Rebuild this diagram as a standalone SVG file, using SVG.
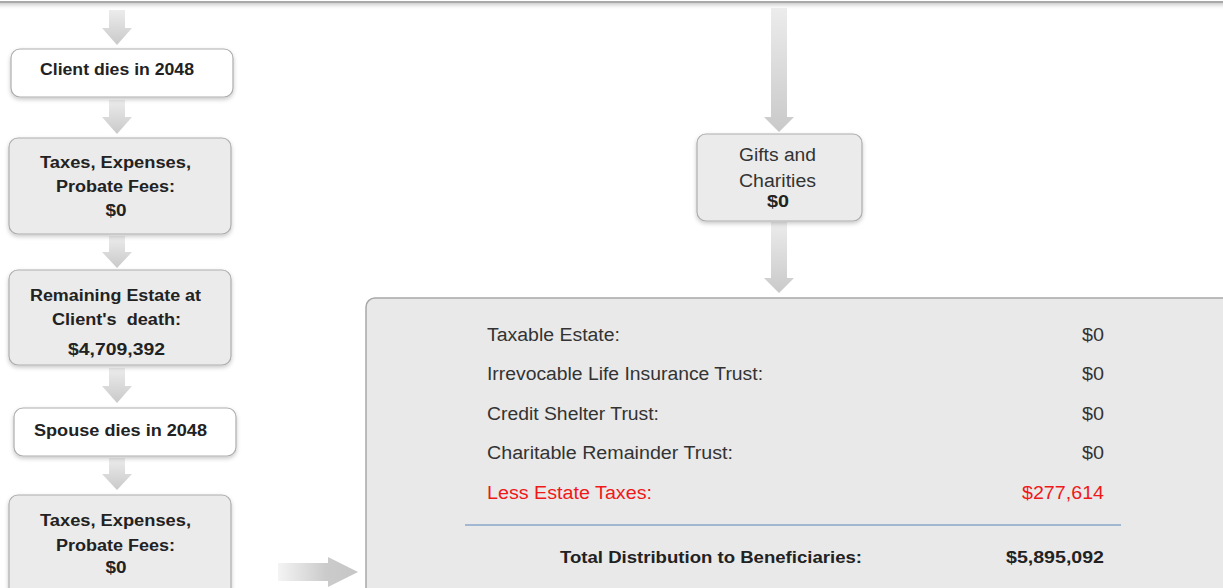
<svg xmlns="http://www.w3.org/2000/svg" width="1223" height="588" viewBox="0 0 1223 588">
<defs>
<filter id="sh" x="-10%" y="-10%" width="120%" height="140%"><feDropShadow dx="0" dy="2" stdDeviation="2" flood-color="#000" flood-opacity="0.22"/></filter>
<linearGradient id="gv" x1="0" y1="0" x2="0" y2="1"><stop offset="0" stop-color="#ececec"/><stop offset="1" stop-color="#c9c9c9"/></linearGradient>
<linearGradient id="gh" x1="0" y1="0" x2="1" y2="0"><stop offset="0" stop-color="#f4f4f4"/><stop offset="0.6" stop-color="#cbcbcb"/><stop offset="1" stop-color="#c6c6c6"/></linearGradient>
<style>
.box{stroke:#adadad;stroke-width:1.2}
.w{fill:#fff}
.g{fill:#ebebeb}
.b{font-family:"Liberation Sans",Arial,sans-serif;font-weight:bold;font-size:16px;fill:#222;text-anchor:middle}
.n{font-family:"Liberation Sans",Arial,sans-serif;font-size:18px;fill:#333}
.r{text-anchor:end}
.red{fill:#f01818}
.tb{font-family:"Liberation Sans",Arial,sans-serif;font-weight:bold;font-size:17px;fill:#222}
</style>
</defs>
<g id="frame-top"><rect x="-20" y="-100" width="1263" height="102" fill="#fff" stroke="#a8a8a8" stroke-width="2" filter="url(#sh)"/></g>
<g id="connectors">
<path d="M109 10 H125 V28 H132 L117 45 L102 28 H109 Z" fill="url(#gv)"/>
<path d="M109 100 H125 V117 H132 L117 134 L102 117 H109 Z" fill="url(#gv)"/>
<path d="M109 236 H125 V252 H132 L117 268 L102 252 H109 Z" fill="url(#gv)"/>
<path d="M109 368 H125 V386 H132 L117 403 L102 386 H109 Z" fill="url(#gv)"/>
<path d="M109 458 H125 V474 H132 L117 490 L102 474 H109 Z" fill="url(#gv)"/>
<path d="M771 8 H787 V117 H794 L779 132 L764 117 H771 Z" fill="url(#gv)"/>
<path d="M771 222 H787 V278 H794 L779 293 L764 278 H771 Z" fill="url(#gv)"/>
<path d="M278 563 H328 V557 L358 572 L328 587 V581 H278 Z" fill="url(#gh)"/>
</g>
<g id="n-client"><rect class="box w" x="11" y="49" width="222" height="48" rx="9" filter="url(#sh)"/><text class="b" x="117" y="75" textLength="154" lengthAdjust="spacingAndGlyphs">Client dies in 2048</text></g>
<g id="n-tax1"><rect class="box g" x="9" y="138" width="222" height="96" rx="9" filter="url(#sh)"/><text class="b" x="115.5" y="168" textLength="151" lengthAdjust="spacingAndGlyphs">Taxes, Expenses,</text><text class="b" x="115.5" y="192" textLength="119" lengthAdjust="spacingAndGlyphs">Probate Fees:</text><text class="b" x="116" y="216" textLength="21" lengthAdjust="spacingAndGlyphs">$0</text></g>
<g id="n-remain"><rect class="box g" x="9" y="270" width="222" height="95" rx="9" filter="url(#sh)"/><text class="b" x="115.5" y="301" textLength="171" lengthAdjust="spacingAndGlyphs">Remaining Estate at</text><text class="b" x="116.5" y="325" textLength="129" lengthAdjust="spacingAndGlyphs">Client's&#160; death:</text><text class="b" x="116.5" y="355" style="font-size:17px" textLength="97" lengthAdjust="spacingAndGlyphs">$4,709,392</text></g>
<g id="n-spouse"><rect class="box w" x="14" y="408" width="222" height="48" rx="9" filter="url(#sh)"/><text class="b" x="120.5" y="436" textLength="173" lengthAdjust="spacingAndGlyphs">Spouse dies in 2048</text></g>
<g id="n-tax2"><rect class="box g" x="9" y="495" width="222" height="110" rx="9" filter="url(#sh)"/><text class="b" x="115.5" y="526" textLength="151" lengthAdjust="spacingAndGlyphs">Taxes, Expenses,</text><text class="b" x="115.5" y="551" textLength="119" lengthAdjust="spacingAndGlyphs">Probate Fees:</text><text class="b" x="116" y="573" textLength="21" lengthAdjust="spacingAndGlyphs">$0</text></g>
<g id="n-gifts"><rect class="box g" x="697" y="134" width="165" height="87" rx="9" filter="url(#sh)"/><text class="n" x="777.5" y="161" text-anchor="middle" textLength="77" lengthAdjust="spacingAndGlyphs">Gifts and</text><text class="n" x="777.5" y="187" text-anchor="middle" textLength="77" lengthAdjust="spacingAndGlyphs">Charities</text><text class="tb" x="778" y="207" text-anchor="middle" textLength="22" lengthAdjust="spacingAndGlyphs">$0</text></g>
<g id="n-summary">
<rect x="366" y="298" width="880" height="310" rx="9" fill="#e9e9e9" stroke="#a8a8a8" stroke-width="1.5"/>
<text class="n" x="487" y="341" textLength="133" lengthAdjust="spacingAndGlyphs">Taxable Estate:</text><text class="n r" x="1104" y="341" textLength="22" lengthAdjust="spacingAndGlyphs">$0</text>
<text class="n" x="487" y="380" textLength="276" lengthAdjust="spacingAndGlyphs">Irrevocable Life Insurance Trust:</text><text class="n r" x="1104" y="380" textLength="22" lengthAdjust="spacingAndGlyphs">$0</text>
<text class="n" x="487" y="420" textLength="172" lengthAdjust="spacingAndGlyphs">Credit Shelter Trust:</text><text class="n r" x="1104" y="420" textLength="22" lengthAdjust="spacingAndGlyphs">$0</text>
<text class="n" x="487" y="459" textLength="246" lengthAdjust="spacingAndGlyphs">Charitable Remainder Trust:</text><text class="n r" x="1104" y="459" textLength="22" lengthAdjust="spacingAndGlyphs">$0</text>
<text class="n red" x="487" y="499" textLength="165" lengthAdjust="spacingAndGlyphs">Less Estate Taxes:</text><text class="n r red" x="1104" y="499" textLength="82" lengthAdjust="spacingAndGlyphs">$277,614</text>
<line x1="465" y1="525" x2="1121" y2="525" stroke="#8aa6c8" stroke-width="1.5"/>
<text class="tb" x="560" y="563" textLength="302" lengthAdjust="spacingAndGlyphs">Total Distribution to Beneficiaries:</text><text class="tb r" x="1104" y="563" textLength="98" lengthAdjust="spacingAndGlyphs">$5,895,092</text>
</g>
</svg>
